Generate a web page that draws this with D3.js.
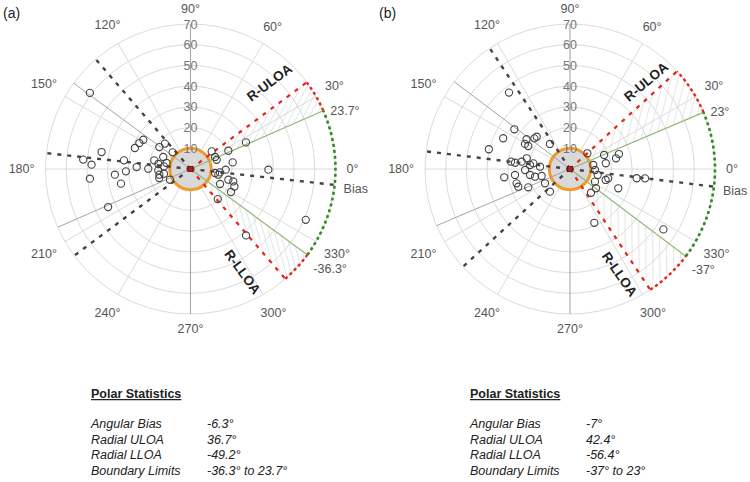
<!DOCTYPE html>
<html><head><meta charset="utf-8">
<script src="https://cdn.jsdelivr.net/npm/d3@7"></script>
<style>body{margin:0;background:#fff;} svg{display:block;font-family:Arial,"Liberation Sans",sans-serif;}</style>
</head><body><svg id="chart" width="750" height="482"></svg>
<script>
// ---------- data ----------
const panelNames = ["(a)", "(b)"];
const angularBias = [-6.3, -7];
const radialULOA = [36.7, 42.4];
const radialLLOA = [-49.2, -56.4];
const boundaryLower = [-36.3, -37];
const boundaryUpper = [23.7, 23];
const boundaryUpperLabels = ["23.7°", "23°"];
const boundaryLowerLabels = ["-36.3°", "-37°"];
const angleTicks = [0, 30, 60, 90, 120, 150, 180, 210, 240, 270, 300, 330];
const radialTicks = [10, 20, 30, 40, 50, 60, 70];
const statNames = ["Angular Bias", "Radial ULOA", "Radial LLOA", "Boundary Limits"];
const statValuesA = ["-6.3°", "36.7°", "-49.2°", "-36.3° to 23.7°"];
const statValuesB = ["-7°", "42.4°", "-56.4°", "-37° to 23°"];

const pointAnglesA = [142.9,169.2,175.0,177.5,185.5,204.8,184.3,191.9,182.1,172.6,177.9,159.3,153.1,148.2,179.6,166.6,144.8,135.2,171.2,182.5,156.2,174.4,196.1,190.1,207.6,137.0,165.9,190.4,
  39.7,26.1,25.8,25.6,8.9,-0.5,-9.3,-6.6,-1.1,-15.8,-16.2,-26.9,-21.7,-29.6,-47.8,-23.8,-50.1,19.5,-11.6];
const pointRadiiA = [60.9,43.7,52.0,47.8,48.8,43.8,36.6,34.3,31.2,32.4,26.0,28.7,27.7,26.8,20.4,18.0,18.4,17.4,15.7,15.6,14.4,12.9,15.7,13.0,11.2,11.8,11.9,15.3,
  13.3,13.2,20.3,29.7,20.6,37.6,12.0,14.3,17.0,19.0,21.5,16.0,22.8,22.5,19.6,60.8,41.8,13.4,13.7];
const pointAnglesB = [128.6,144.5,155.3,166.3,145.6,150.9,151.1,139.3,135.9,128.7,172.9,173.5,171.4,166.1,174.3,171.2,175.6,181.3,188.5,186.2,187.2,195.0,198.9,203.7,193.9,209.8,228.6,192.4,
  42.2,22.4,13.1,17.0,9.1,-2.3,-12.2,-17.1,-13.7,-21.8,-36.6,-48.5,-7.9,-7.1,-65.7,-32.9,-26.9,9.7];
const pointRadiiB = [47.2,33.0,35.5,40.3,25.4,24.9,23.0,22.7,22.4,15.5,28.7,26.7,23.6,21.5,19.4,17.9,14.5,21.7,19.5,26.7,32.0,26.7,26.4,22.0,14.1,13.9,14.6,17.3,
  11.3,17.8,22.8,24.7,17.5,12.1,13.7,18.0,19.0,25.1,15.6,15.3,32.5,36.5,28.5,53.7,13.5,11.4];

// ---------- layout ----------
const centersX = [190.5, 570];
const centerY = 169;
const ulabelLayout = [{along:115, perp:22, rot:-36.7}, {along:115, perp:13, rot:-40}];
const llabelLayout = [{along:112, perp:28, rot:54}, {along:115, perp:17, rot:55}];
const statsX = [91, 470];
const valuesX = [207, 586];

const svg = d3.select("#chart");
const rScale = d3.scaleLinear().domain([0, 70]).range([0, 145]);
const rad = d => d * Math.PI / 180;

function drawPanel(i, angles, radii, statValues) {
  const cx = centersX[i], cy = centerY;
  const g = svg.append("g");
  const P = (deg, r) => [cx + rScale(r) * Math.cos(rad(deg)), cy - rScale(r) * Math.sin(rad(deg))];
  const R = rScale(70);

  // rings
  g.selectAll("circle.ring").data(radialTicks).join("circle")
    .attr("cx", cx).attr("cy", cy).attr("r", d => rScale(d))
    .attr("fill", "none").attr("stroke", "#d6d6d6").attr("stroke-width", 0.9);
  // spokes
  g.selectAll("line.spoke").data(angleTicks).join("line")
    .attr("x1", cx).attr("y1", cy)
    .attr("x2", d => P(d, 70)[0]).attr("y2", d => P(d, 70)[1])
    .attr("stroke", d => (d === 90 || d === 270) ? "#a8a8a8" : "#d6d6d6")
    .attr("stroke-width", d => (d === 90 || d === 270) ? 1.1 : 0.9);

  // hatch in wedges
  const wedges = [[boundaryUpper[i], radialULOA[i]], [boundaryLower[i], radialLLOA[i]]];
  wedges.forEach((w, k) => {
    const id = "clip" + i + "_" + k;
    const a0 = Math.min(w[0], w[1]), a1 = Math.max(w[0], w[1]);
    const p = d3.path();
    p.moveTo(cx, cy);
    p.arc(cx, cy, R, -rad(a0), -rad(a1), true);
    p.closePath();
    svg.append("clipPath").attr("id", id).append("path").attr("d", p.toString());
    const hs = d3.range(8, 72, 4.2);
    g.append("g").attr("clip-path", `url(#${id})`)
      .selectAll("line").data(hs).join("line")
      .attr("x1", d => P(w[0], d)[0]).attr("y1", d => P(w[0], d)[1])
      .attr("x2", d => P(w[1], d * 1.45)[0]).attr("y2", d => P(w[1], d * 1.45)[1])
      .attr("stroke", "#dadada").attr("stroke-width", 0.7);
  });

  // orange central circle
  g.append("circle").attr("cx", cx).attr("cy", cy).attr("r", rScale(10))
    .attr("fill", "#d9d9d9").attr("stroke", "#f39a2b").attr("stroke-width", 3);

  // radial tick labels
  g.selectAll("text.rt").data(radialTicks).join("text")
    .attr("x", cx).attr("y", d => cy - rScale(d))
    .attr("dy", "0.36em").attr("text-anchor", "middle")
    .attr("font-size", 12.5).attr("fill", "#777").text(d => d);

  // angle labels
  g.selectAll("text.at").data(angleTicks).join("text")
    .attr("font-size", 12.5).attr("fill", "#555")
    .attr("text-anchor", "middle").attr("dominant-baseline", "central")
    .text(d => d + "°")
    .each(function (d) {
      const w = this.getComputedTextLength();
      const c = Math.cos(rad(d)), s = Math.sin(rad(d));
      const rr = 156 + Math.abs(c) * w / 2 + Math.abs(s) * 4;
      d3.select(this).attr("x", cx + rr * c).attr("y", cy - rr * s);
    });

  // gray solid opposite boundary lines
  [boundaryUpper[i] + 180, boundaryLower[i] + 180].forEach(a => {
    g.append("line").attr("x1", cx).attr("y1", cy)
      .attr("x2", P(a, 70)[0]).attr("y2", P(a, 70)[1])
      .attr("stroke", "#a5a5a5").attr("stroke-width", 1);
  });
  // green boundary lines
  [boundaryUpper[i], boundaryLower[i]].forEach(a => {
    g.append("line").attr("x1", cx).attr("y1", cy)
      .attr("x2", P(a, 70)[0]).attr("y2", P(a, 70)[1])
      .attr("stroke", "#92b878").attr("stroke-width", 1.2);
  });
  // dark dashed lines
  [angularBias[i], angularBias[i] + 180, radialULOA[i] + 180, radialLLOA[i] + 180].forEach(a => {
    g.append("line").attr("x1", cx).attr("y1", cy)
      .attr("x2", P(a, 70)[0]).attr("y2", P(a, 70)[1])
      .attr("stroke", "#444").attr("stroke-width", 2.4).attr("stroke-dasharray", "4,6");
  });
  // red dashed LOA lines
  [radialULOA[i], radialLLOA[i]].forEach(a => {
    g.append("line").attr("x1", cx).attr("y1", cy)
      .attr("x2", P(a, 70)[0]).attr("y2", P(a, 70)[1])
      .attr("stroke", "#e0261c").attr("stroke-width", 2.2).attr("stroke-dasharray", "4,6");
  });
  // arcs
  const arcPath = (a0, a1) => { const p = d3.path(); const s = P(a0, 70); p.moveTo(s[0], s[1]); p.arc(cx, cy, R, -rad(a0), -rad(a1), true); return p.toString(); };
  g.append("path").attr("d", arcPath(boundaryLower[i], boundaryUpper[i]))
    .attr("fill", "none").attr("stroke", "#2f8a1f").attr("stroke-width", 2.6).attr("stroke-dasharray", "3,3");
  g.append("path").attr("d", arcPath(boundaryUpper[i], radialULOA[i]))
    .attr("fill", "none").attr("stroke", "#e0261c").attr("stroke-width", 2.4).attr("stroke-dasharray", "3,3");
  g.append("path").attr("d", arcPath(radialLLOA[i], boundaryLower[i]))
    .attr("fill", "none").attr("stroke", "#e0261c").attr("stroke-width", 2.4).attr("stroke-dasharray", "3,3");

  // center marker
  g.append("rect").attr("x", cx - 2.5).attr("y", cy - 2.5).attr("width", 5).attr("height", 5)
    .attr("fill", "#a22").attr("stroke", "#611").attr("stroke-width", 0.8);

  // points
  g.selectAll("circle.pt").data(angles.map((a, j) => [a, radii[j]])).join("circle")
    .attr("cx", d => P(d[0], d[1])[0]).attr("cy", d => P(d[0], d[1])[1])
    .attr("r", 3.6).attr("fill", "none").attr("stroke", "#444").attr("stroke-width", 1.1);

  // boundary labels
  const bu = P(boundaryUpper[i], 70), bl = P(boundaryLower[i], 70), bb = P(angularBias[i], 70);
  g.append("text").attr("x", bu[0] + 7).attr("y", bu[1] + 4).attr("font-size", 12.5).attr("fill", "#555").text(boundaryUpperLabels[i]);
  g.append("text").attr("x", bl[0] + 6).attr("y", bl[1] + 18).attr("font-size", 12.5).attr("fill", "#555").text(boundaryLowerLabels[i]);
  g.append("text").attr("x", bb[0] + 9).attr("y", bb[1] + 8).attr("font-size", 12.5).attr("fill", "#555").text("Bias");

  // LOA labels
  const placeLabel = (ang, lay, sign, txt) => {
    const c = Math.cos(rad(ang)), s = Math.sin(rad(ang));
    const nx = -s * sign, ny = c * sign; // normal (math coords)
    const x = cx + lay.along * c + lay.perp * nx;
    const y = cy - (lay.along * s + lay.perp * ny);
    g.append("text").attr("transform", `translate(${x},${y}) rotate(${lay.rot})`)
      .attr("text-anchor", "middle").attr("dominant-baseline", "central")
      .attr("font-size", 13.5).attr("font-weight", "bold").attr("fill", "#222").text(txt);
  };
  placeLabel(radialULOA[i], ulabelLayout[i], 1, "R-ULOA");
  placeLabel(radialLLOA[i], llabelLayout[i], -1, "R-LLOA");

  // panel name
  svg.append("text").attr("x", i === 0 ? 3 : 379).attr("y", 18).attr("font-size", 14).attr("fill", "#222").text(panelNames[i]);

  // stats
  const st = svg.append("g");
  st.append("text").attr("x", statsX[i]).attr("y", 398).attr("font-size", 12.5).attr("font-weight", "bold")
    .attr("fill", "#222").attr("text-decoration", "underline").text("Polar Statistics");
  st.selectAll("text.sn").data(statNames).join("text")
    .attr("x", statsX[i]).attr("y", (d, j) => 428 + j * 15.7).attr("font-size", 12.5)
    .attr("font-style", "italic").attr("fill", "#222").text(d => d);
  st.selectAll("text.sv").data(statValues).join("text")
    .attr("x", valuesX[i]).attr("y", (d, j) => 428 + j * 15.7).attr("font-size", 12.5)
    .attr("font-style", "italic").attr("fill", "#222").text(d => d);
}

drawPanel(0, pointAnglesA, pointRadiiA, statValuesA);
drawPanel(1, pointAnglesB, pointRadiiB, statValuesB);
</script></body></html>
